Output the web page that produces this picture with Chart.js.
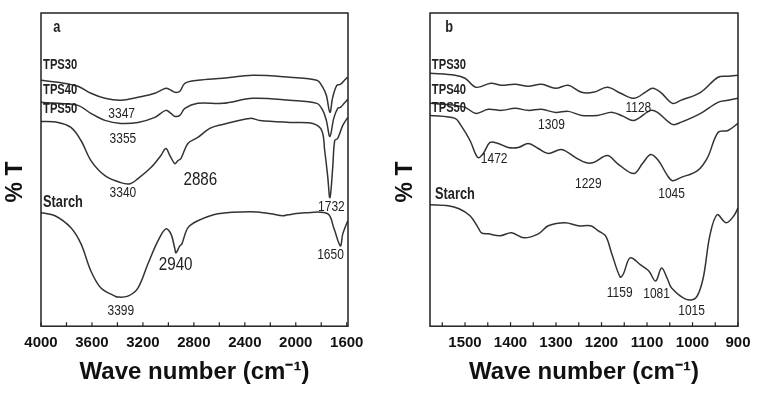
<!DOCTYPE html>
<html>
<head>
<meta charset="utf-8">
<script src="https://cdn.jsdelivr.net/npm/chart.js@4.4.1/dist/chart.umd.min.js"></script>
<style>
  body { margin: 0; background: #fff; }
  #wrap { position: relative; width: 758px; height: 395px; }
  canvas { position: absolute; top: 0; }
</style>
</head>
<body>
<div id="wrap">
  <canvas id="chartA" width="379" height="395" style="left:0"></canvas>
  <canvas id="chartB" width="379" height="395" style="left:379px"></canvas>
</div>
<script>
// panel a: 4000-1600 cm-1
var aTPS30Wn = [4000, 3867, 3710, 3608, 3498, 3373, 3239, 3106, 3020, 2980, 2949, 2910, 2871, 2769, 2573, 2337, 2047, 1835, 1788, 1760, 1732, 1710, 1678, 1650, 1610, 1592];
var aTPS30 = [245, 243, 239, 232, 227, 225, 228, 232, 237, 235, 233, 234, 242, 245, 247, 250, 248, 245, 238, 230, 213, 228, 240, 241, 246, 248];

var aTPS40Wn = [4000, 3867, 3710, 3608, 3498, 3373, 3239, 3106, 3020, 2980, 2949, 2910, 2871, 2769, 2573, 2337, 2047, 1835, 1788, 1760, 1732, 1702, 1671, 1650, 1620, 1592];
var aTPS40 = [223, 222, 220, 212, 205, 202, 203, 208, 215, 212, 209, 210, 217, 222, 222, 227, 225, 222, 215, 205, 189, 207, 217, 218, 222, 226];

var aTPS50Wn = [4000, 3867, 3765, 3686, 3608, 3498, 3373, 3300, 3239, 3137, 3059, 3020, 2988, 2949, 2925, 2902, 2847, 2769, 2675, 2573, 2361, 2282, 2047, 1867, 1796, 1773, 1750, 1732, 1710, 1694, 1671, 1631, 1592];
var aTPS50 = [204, 203, 198, 185, 165, 150, 143, 142, 147, 158, 170, 177, 170, 162, 165, 167, 182, 188, 197, 201, 207, 205, 203, 202, 195, 175, 150, 128, 158, 185, 187, 200, 208];

var aStarchWn = [4000, 3890, 3765, 3686, 3608, 3529, 3420, 3399, 3318, 3239, 3161, 3082, 3020, 2980, 2949, 2940, 2910, 2894, 2847, 2769, 2612, 2353, 2196, 2100, 2063, 1929, 1749, 1702, 1650, 1631, 1592];
var aStarch = [113, 110, 98, 82, 55, 38, 30, 29, 30, 38, 62, 85, 97, 92, 77, 73, 80, 82, 98, 105, 112, 114, 112, 110, 111, 113, 112, 98, 80, 92, 105];

var aTicks = [1600, 1800, 2000, 2200, 2400, 2600, 2800, 3000, 3200, 3400, 3600, 3800, 4000];
var aTickLabels = [1600, 2000, 2400, 2800, 3200, 3600, 4000];

// panel b: 1577-900 cm-1
var bTPS30Wn = [1577, 1522, 1500, 1476, 1443, 1420, 1390, 1361, 1332, 1301, 1273, 1244, 1218, 1187, 1158, 1128, 1101, 1088, 1070, 1044, 1026, 982, 944, 922, 900];
var bTPS30 = [252, 250, 247, 238, 242, 240, 241, 239, 241, 237, 240, 233, 233, 238, 232, 227, 234, 237, 233, 222, 225, 233, 248, 249, 250];

var bTPS40Wn = [1577, 1522, 1500, 1476, 1449, 1420, 1390, 1361, 1332, 1301, 1273, 1244, 1209, 1176, 1152, 1129, 1092, 1077, 1044, 1026, 982, 944, 922, 900];
var bTPS40 = [222, 220, 218, 212, 216, 215, 217, 215, 216, 213, 214, 210, 210, 213, 209, 205, 215, 213, 201, 203, 212, 223, 225, 227];

var bTPS50Wn = [1577, 1522, 1509, 1489, 1472, 1460, 1445, 1427, 1405, 1383, 1361, 1339, 1317, 1288, 1257, 1235, 1218, 1187, 1165, 1129, 1110, 1092, 1075, 1055, 1044, 1026, 989, 967, 944, 922, 900];
var bTPS50 = [210, 207, 200, 185, 168, 172, 183, 182, 178, 178, 182, 177, 172, 176, 168, 163, 163, 170, 162, 152, 162, 171, 165, 150, 145, 148, 155, 168, 193, 195, 202];

var bStarchWn = [1577, 1537, 1513, 1489, 1471, 1464, 1449, 1423, 1398, 1370, 1339, 1317, 1280, 1251, 1224, 1207, 1191, 1178, 1159, 1152, 1137, 1114, 1096, 1081, 1068, 1055, 1046, 1015, 993, 977, 962, 946, 926, 909, 900];
var bStarch = [121, 120, 117, 110, 98, 93, 92, 90, 93, 88, 92, 100, 103, 100, 100, 95, 90, 73, 49, 52, 68, 61, 55, 45, 58, 47, 38, 27, 28, 47, 90, 111, 103, 110, 118];

var bTicks = [900, 950, 1000, 1050, 1100, 1150, 1200, 1250, 1300, 1350, 1400, 1450, 1500, 1550];
var bTickLabels = [900, 1000, 1100, 1200, 1300, 1400, 1500];

// peak labels [text, wavenumber, %T, size, bold, align]
var aLabels = [
  ['a', 3875, 297, 16, true, 'center'],
  ['TPS30', 3984, 260, 14, true, 'left'],
  ['TPS40', 3984, 235, 14, true, 'left'],
  ['TPS50', 3984, 216, 14, true, 'left'],
  ['Starch', 3984, 123, 16, true, 'left'],
  ['3347', 3367, 212, 15, false, 'center'],
  ['3355', 3357, 187, 15, false, 'center'],
  ['3340', 3357, 133, 15, false, 'center'],
  ['2886', 2749, 146, 19, false, 'center'],
  ['1732', 1720, 119, 15, false, 'center'],
  ['2940', 2943, 61, 19, false, 'center'],
  ['1650', 1727, 71, 15, false, 'center'],
  ['3399', 3373, 15, 15, false, 'center']
];
var bLabels = [
  ['b', 1535, 297, 16, true, 'center'],
  ['TPS30', 1573, 260, 14, true, 'left'],
  ['TPS40', 1573, 235, 14, true, 'left'],
  ['TPS50', 1573, 217, 14, true, 'left'],
  ['Starch', 1566, 131, 16, true, 'left'],
  ['1128', 1119, 218, 15, false, 'center'],
  ['1309', 1310, 201, 15, false, 'center'],
  ['1472', 1436, 167, 15, false, 'center'],
  ['1229', 1229, 142, 15, false, 'center'],
  ['1045', 1046, 132, 15, false, 'center'],
  ['1159', 1160, 33, 15, false, 'center'],
  ['1081', 1079, 32, 15, false, 'center'],
  ['1015', 1002, 15, 15, false, 'center']
];

var FONT = "'Liberation Sans', Arial, sans-serif";
var INK = '#222';

function pts(xs, ys) {
  return xs.map(function (x, i) { return { x: x, y: ys[i] }; });
}

function line(xs, ys) {
  return {
    data: pts(xs, ys),
    borderColor: '#333',
    borderWidth: 1.5,
    pointRadius: 0,
    tension: 0.35,
    fill: false
  };
}

var framePlugin = {
  id: 'frame',
  afterDraw: function (chart, args, opts) {
    var ctx = chart.ctx;
    var a = chart.chartArea;
    var xs = chart.scales.x;
    var ys = chart.scales.y;
    ctx.save();
    ctx.strokeStyle = INK;
    ctx.lineWidth = 1.5;
    ctx.strokeRect(a.left, a.top, a.right - a.left, a.bottom - a.top);
    // tick marks point into the plot
    ctx.lineWidth = 1.2;
    xs.ticks.forEach(function (t) {
      var px = xs.getPixelForValue(t.value);
      ctx.beginPath();
      ctx.moveTo(px, a.bottom);
      ctx.lineTo(px, a.bottom - 4);
      ctx.stroke();
    });
    ctx.fillStyle = '#111';
    ctx.font = 'bold 23px ' + FONT;
    ctx.textAlign = 'center';
    ctx.textBaseline = 'middle';
    ctx.translate(opts.yTitleX, 182);
    ctx.rotate(-Math.PI / 2);
    ctx.fillText('% T', 0, 0);
    ctx.restore();

    ctx.fillStyle = INK;
    ctx.textBaseline = 'middle';
    opts.labels.forEach(function (l) {
      ctx.save();
      ctx.font = (l[4] ? 'bold ' : '') + l[3] + 'px ' + FONT;
      ctx.textAlign = l[5];
      ctx.translate(xs.getPixelForValue(l[1]), ys.getPixelForValue(l[2]));
      ctx.scale(0.8, 1);
      ctx.fillText(l[0], 0, 0);
      ctx.restore();
    });
  }
};

function makePanel(id, sets, xMin, xMax, tickVals, tickLabels, labels, pad, yTitleX) {
  return new Chart(document.getElementById(id).getContext('2d'), {
    type: 'line',
    data: { datasets: sets },
    options: {
      responsive: false,
      animation: false,
      layout: { padding: pad },
      plugins: {
        legend: { display: false },
        tooltip: { enabled: false },
        frame: { labels: labels, yTitleX: yTitleX }
      },
      scales: {
        x: {
          type: 'linear',
          reverse: true,
          min: xMin,
          max: xMax,
          afterBuildTicks: function (scale) {
            scale.ticks = tickVals.map(function (v) { return { value: v }; });
          },
          grid: { display: false, drawTicks: false },
          border: { display: false },
          ticks: {
            autoSkip: false,
            maxRotation: 0,
            padding: 8,
            color: '#111',
            font: { family: FONT, size: 15, weight: 'bold' },
            callback: function (v) { return tickLabels.indexOf(v) >= 0 ? String(v) : ''; }
          },
          title: {
            display: true,
            text: 'Wave number (cm\u207B\u00B9)',
            color: '#111',
            font: { family: FONT, size: 24, weight: 'bold' },
            padding: { top: -2, bottom: 8 }
          }
        },
        y: { display: false, min: 0, max: 312 }
      }
    },
    plugins: [framePlugin]
  });
}

makePanel('chartA',
  [line(aTPS30Wn, aTPS30), line(aTPS40Wn, aTPS40), line(aTPS50Wn, aTPS50), line(aStarchWn, aStarch)],
  1590, 4000, aTicks, aTickLabels, aLabels, { left: 41, right: 31, top: 13, bottom: 0 }, 16);

makePanel('chartB',
  [line(bTPS30Wn, bTPS30), line(bTPS40Wn, bTPS40), line(bTPS50Wn, bTPS50), line(bStarchWn, bStarch)],
  900, 1577, bTicks, bTickLabels, bLabels, { left: 51, right: 20, top: 13, bottom: 0 }, 27);
</script>
</body>
</html>
